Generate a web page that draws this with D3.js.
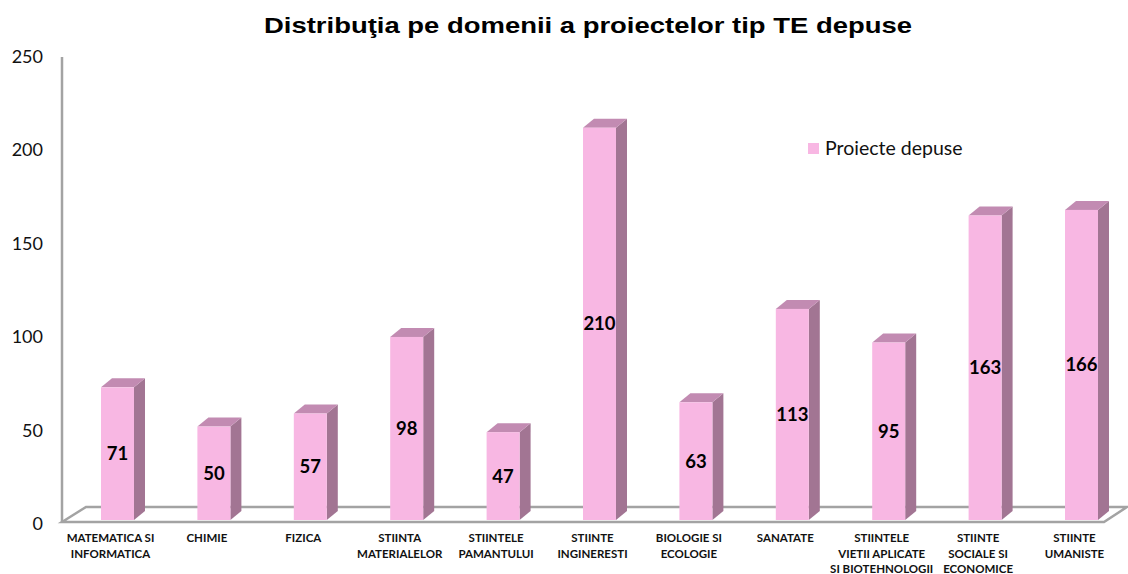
<!DOCTYPE html>
<html>
<head>
<meta charset="utf-8">
<script src="https://cdn.jsdelivr.net/npm/d3@7"></script>
<style>
  body { margin: 0; background: #fff; }
  svg { display: block; }
</style>
</head>
<body>
<div id="vis"></div>
<script>
// Chart frame
const FRAME_WIDTH = 1128;
const FRAME_HEIGHT = 574;

// Data
const CATEGORIES = [
  ["MATEMATICA SI", "INFORMATICA"],
  ["CHIMIE"],
  ["FIZICA"],
  ["STIINTA", "MATERIALELOR"],
  ["STIINTELE", "PAMANTULUI"],
  ["STIINTE", "INGINERESTI"],
  ["BIOLOGIE SI", "ECOLOGIE"],
  ["SANATATE"],
  ["STIINTELE", "VIETII APLICATE", "SI BIOTEHNOLOGII"],
  ["STIINTE", "SOCIALE SI", "ECONOMICE"],
  ["STIINTE", "UMANISTE"]
];
const VALUES = [71, 50, 57, 98, 47, 210, 63, 113, 95, 163, 166];
const Y_TICKS = [0, 50, 100, 150, 200, 250];
const SERIES_NAME = "Proiecte depuse";
const TITLE = "Distribuţia pe domenii a proiectelor tip TE depuse";

// 3d look
const DEPTH_X = 11, DEPTH_Y = 9;
const BAR_W = 33;
const COLORS = {front: "#f8b7e3", top: "#c28bb2", side: "#a27593", axis: "#a3a3a3"};

const svg = d3.select("#vis")
  .append("svg")
    .attr("width", FRAME_WIDTH)
    .attr("height", FRAME_HEIGHT);

// scales
const Y_SCALE = d3.scaleLinear()
  .domain([0, 250])
  .range([520, 53]);

const X_SCALE = d3.scalePoint()
  .domain(d3.range(CATEGORIES.length))
  .range([117.5, 1081.5]);

// title (reference is stretched wide)
svg.append("text")
  .attr("x", 264)
  .attr("y", 33)
  .attr("textLength", 648)
  .attr("lengthAdjust", "spacingAndGlyphs")
  .attr("font-family", "Liberation Sans, Arial, sans-serif")
  .attr("font-weight", "bold")
  .attr("font-size", "22px")
  .text(TITLE);

// floor (3d base)
const floorPts = [[62, 522], [62 + 24, 507], [1127, 507], [1104, 522]];
svg.append("path")
  .attr("d", d3.line()(floorPts) + "Z")
  .attr("fill", "none")
  .attr("stroke", COLORS.axis)
  .attr("stroke-width", 2.5);

// y axis line
svg.append("line")
  .attr("x1", 62).attr("x2", 62)
  .attr("y1", 57).attr("y2", 522)
  .attr("stroke", COLORS.axis)
  .attr("stroke-width", 2.5);

// y tick labels
svg.append("g")
  .selectAll("text")
  .data(Y_TICKS)
  .enter()
  .append("text")
    .attr("x", 43)
    .attr("y", (d) => Y_SCALE(d) + 10)
    .attr("text-anchor", "end")
    .attr("font-family", "Lato, sans-serif")
    .attr("font-size", "18px")
    .attr("fill", "#111")
    .text((d) => d);

// bars
const bars = svg.append("g")
  .selectAll("g")
  .data(VALUES)
  .enter()
  .append("g");

bars.append("path")  // side face
  .attr("d", (d, i) => {
    const x1 = X_SCALE(i) + BAR_W / 2;
    const yt = Y_SCALE(d), yb = Y_SCALE(0);
    return d3.line()([[x1, yt], [x1 + DEPTH_X, yt - DEPTH_Y], [x1 + DEPTH_X, yb - DEPTH_Y], [x1, yb]]) + "Z";
  })
  .attr("fill", COLORS.side);

bars.append("path")  // top face
  .attr("d", (d, i) => {
    const x0 = X_SCALE(i) - BAR_W / 2;
    const yt = Y_SCALE(d);
    return d3.line()([[x0, yt], [x0 + DEPTH_X, yt - DEPTH_Y], [x0 + BAR_W + DEPTH_X, yt - DEPTH_Y], [x0 + BAR_W, yt]]) + "Z";
  })
  .attr("fill", COLORS.top);

bars.append("rect")  // front face
  .attr("x", (d, i) => X_SCALE(i) - BAR_W / 2)
  .attr("y", (d) => Y_SCALE(d))
  .attr("width", BAR_W)
  .attr("height", (d) => Y_SCALE(0) - Y_SCALE(d))
  .attr("fill", COLORS.front);

// value labels
bars.append("text")
  .attr("x", (d, i) => X_SCALE(i))
  .attr("y", (d) => (Y_SCALE(d) + Y_SCALE(0)) / 2 + 6.5)
  .attr("text-anchor", "middle")
  .attr("font-family", "Lato, sans-serif")
  .attr("font-weight", "bold")
  .attr("font-size", "18.5px")
  .attr("fill", "#000")
  .text((d) => d);

// category labels
const catLabels = svg.append("g")
  .selectAll("text")
  .data(CATEGORIES)
  .enter()
  .append("text")
    .attr("x", (d, i) => X_SCALE(i) - 7)
    .attr("y", 542)
    .attr("text-anchor", "middle")
    .attr("font-family", "Lato, sans-serif")
    .attr("font-weight", "bold")
    .attr("font-size", "11.5px")
    .attr("fill", "#111");

catLabels.selectAll("tspan")
  .data((d) => d)
  .enter()
  .append("tspan")
    .attr("x", function() { return d3.select(this.parentNode).attr("x"); })
    .attr("dy", (d, j) => j === 0 ? 0 : 15.5)
    .text((d) => d);

// legend
svg.append("rect")
  .attr("x", 808).attr("y", 143)
  .attr("width", 11).attr("height", 11)
  .attr("fill", COLORS.front);

svg.append("text")
  .attr("x", 825)
  .attr("y", 155)
  .attr("font-family", "Lato, sans-serif")
  .attr("font-size", "19.5px")
  .attr("fill", "#111")
  .text(SERIES_NAME);
</script>
</body>
</html>
